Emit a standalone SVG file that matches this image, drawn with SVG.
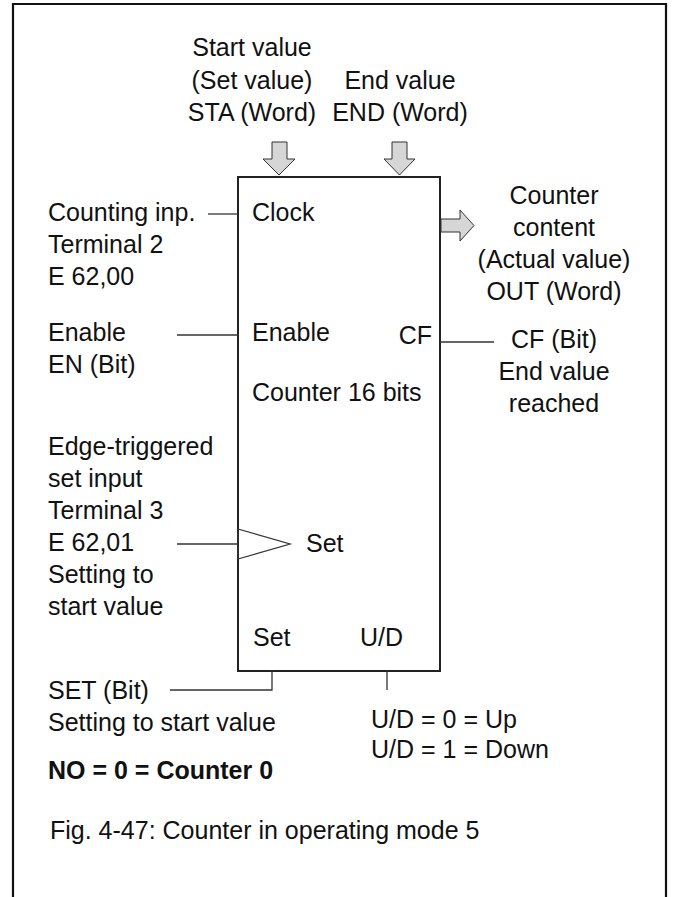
<svg xmlns="http://www.w3.org/2000/svg" width="675" height="897" viewBox="0 0 675 897">
<style>
text{font-family:"Liberation Sans",Arial,sans-serif;font-size:25px;fill:#111}
.c{text-anchor:middle}
.e{text-anchor:end}
.b{font-weight:bold}
.ln{stroke:#333;stroke-width:1.3;fill:none}
.box{stroke:#222;stroke-width:2;fill:#fff}
.arr{fill:#d6d6d6;stroke:#333;stroke-width:1}
</style>
<rect width="675" height="897" fill="#fff"/>
<path d="M13,897 V4 H666 V897" fill="none" stroke="#111" stroke-width="2.2"/>
<g id="counter">
<rect class="box" x="238" y="177" width="202" height="494"/>
<text x="252" y="221">Clock</text>
<text x="252" y="341">Enable</text>
<text class="e" x="432" y="344">CF</text>
<text x="252" y="401">Counter 16 bits</text>
<polygon points="238,529 290,544 238,559" class="ln" fill="#fff"/>
<text x="306" y="552">Set</text>
<text x="253" y="646">Set</text>
<text x="360" y="646">U/D</text>
</g>
<g id="sta">
<text class="c" x="252" y="56">Start value</text>
<text class="c" x="252" y="89">(Set value)</text>
<text class="c" x="252" y="121">STA (Word)</text>
</g>
<g id="end">
<text class="c" x="400" y="89">End value</text>
<text class="c" x="400" y="121">END (Word)</text>
</g>
<g id="clock-in">
<text x="48" y="221">Counting inp.</text>
<text x="48" y="253">Terminal 2</text>
<text x="48" y="285">E 62,00</text>
</g>
<g id="enable-in">
<text x="48" y="341">Enable</text>
<text x="48" y="373">EN (Bit)</text>
</g>
<g id="out">
<text class="c" x="554" y="204">Counter</text>
<text class="c" x="554" y="236">content</text>
<text class="c" x="554" y="268">(Actual value)</text>
<text class="c" x="554" y="300">OUT (Word)</text>
</g>
<g id="cf-out">
<text class="c" x="554" y="348">CF (Bit)</text>
<text class="c" x="554" y="380">End value</text>
<text class="c" x="554" y="412">reached</text>
</g>
<g id="set-in">
<text x="48" y="455">Edge-triggered</text>
<text x="48" y="487">set input</text>
<text x="48" y="519">Terminal 3</text>
<text x="48" y="551">E 62,01</text>
<text x="48" y="583">Setting to</text>
<text x="48" y="615">start value</text>
</g>
<g id="set-bit">
<text x="48" y="699">SET (Bit)</text>
<text x="48" y="731">Setting to start value</text>
</g>
<g id="ud">
<text x="371" y="728">U/D = 0 = Up</text>
<text x="371" y="758">U/D = 1 = Down</text>
</g>
<g id="note">
<text class="b" x="48" y="779">NO = 0 = Counter 0</text>
</g>
<g id="caption">
<text x="50" y="839">Fig. 4-47: Counter in operating mode 5</text>
</g>
<g id="connectors">
<polygon class="arr" points="272,142 287,142 287,159 295,159 279,175 263,159 272,159"/>
<polygon class="arr" points="392,142 407,142 407,159 415,159 399.5,175 384,159 392,159"/>
<polygon class="arr" points="441,219 460,219 460,210 474,225.5 460,241 460,232 441,232"/>
<path class="ln" d="M208,214 H238"/>
<path class="ln" d="M177,335 H238"/>
<path class="ln" d="M440,342 H494"/>
<path class="ln" d="M177,544 H238"/>
<path class="ln" d="M170,690 H272 V671"/>
<path class="ln" d="M387,671 V690"/>
</g>
</svg>
